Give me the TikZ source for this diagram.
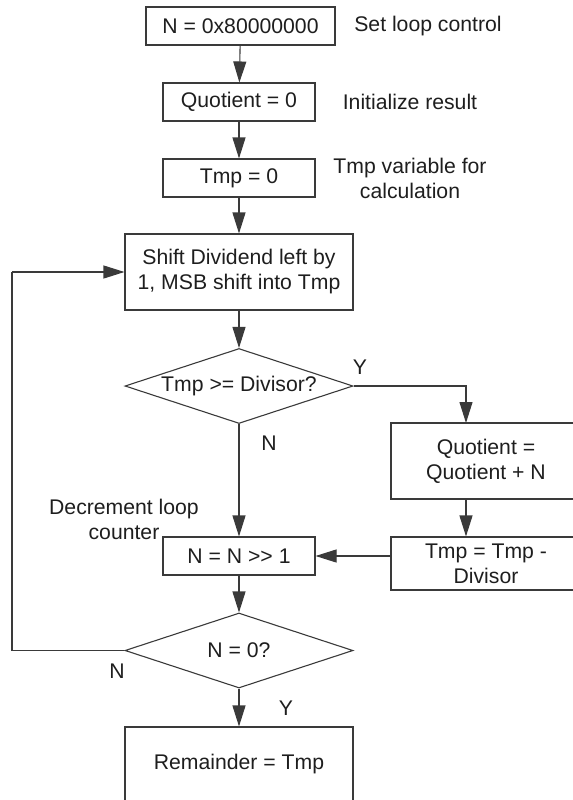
\documentclass[tikz,border=0pt]{standalone}
\usepackage{fontspec}
\setmainfont{Liberation Sans}
\usepackage{tikz}
\usepackage{xcolor}
\usetikzlibrary{arrows.meta,positioning,shapes,calc}
\definecolor{flowline}{HTML}{3A3A3A}
\definecolor{flowtext}{HTML}{1E1E1E}

\begin{document}
\begin{tikzpicture}[x=0.5pt,y=-0.5pt,
    every node/.style={text=flowtext,font=\fontsize{10.6}{12.5}\selectfont,align=center},
    procbox/.style={draw=flowline,line width=0.55pt,inner sep=2pt},
    decbox/.style={draw=flowline,line width=0.55pt,diamond,aspect=3.04,inner sep=0pt,
                   minimum width=114pt,minimum height=37.5pt},
    flow/.style={draw=flowline,line width=0.55pt,-{Triangle[length=10.5pt,width=6.5pt]}},
    plain/.style={draw=flowline,line width=0.55pt}]
  \clip (0,0) rectangle (573,800);

  \node[procbox,minimum width=94.5pt,minimum height=19pt] (init) at (240.5,26) {N = 0x80000000};
  \node[procbox,minimum width=76pt,minimum height=19pt] (quozero) at (239,102) {Quotient = 0};
  \node[procbox,minimum width=76pt,minimum height=19pt] (tmpzero) at (239,178) {Tmp = 0};
  \node[procbox,minimum width=114pt,minimum height=38pt] (shift) at (239,272) {Shift Dividend left by\\1, MSB shift into Tmp};
  \node[decbox] (cmp) at (239,386) {Tmp >= Divisor?};
  \node[procbox,minimum width=95pt,minimum height=38pt] (quoadd) at (486,461) {Quotient =\\Quotient + N};
  \node[procbox,minimum width=95pt,minimum height=26.5pt] (tmpsub) at (486,563.5) {Tmp = Tmp -\\Divisor};
  \node[procbox,minimum width=76pt,minimum height=19pt] (nshift) at (239,556) {N = N >{}> 1};
  \node[decbox] (zero) at (239,650.5) {N = 0?};
  \node[procbox,minimum width=114pt,minimum height=37pt] (rem) at (239,764) {Remainder = Tmp};

  \node (setlbl) at (428,26) {Set loop control};
  \node (initlbl) at (410,102) {Initialize result};
  \node (tmplbl) at (410,178) {Tmp variable for\\calculation};
  \node (declbl) at (124,519.5) {Decrement loop\\counter};
  \node (yes1) at (360,367) {Y};
  \node (no1) at (269,443) {N};
  \node (no2) at (117,671) {N};
  \node (yes2) at (286,708) {Y};

  \coordinate (yesin) at (466,423);
  \coordinate (loopup) at (12,272);

  \draw[flow] (init) -- (quozero);
  \draw[flow] (quozero) -- (tmpzero);
  \draw[flow] (tmpzero) -- (shift);
  \draw[flow] (shift) -- (cmp);
  \draw[flow] (cmp.east) -| (yesin);
  \draw[flow] (yesin |- quoadd.south) -- (yesin |- tmpsub.north);
  \draw[flow] (tmpsub.west |- nshift.east) -- (nshift.east);
  \draw[flow] (cmp.south) -- (nshift);
  \draw[flow] (nshift) -- (zero);
  \draw[plain] (zero.west) -| (loopup);
  \draw[flow] (loopup) -- (shift.west);
  \draw[flow] (zero.south) -- (rem);
\end{tikzpicture}
\end{document}
